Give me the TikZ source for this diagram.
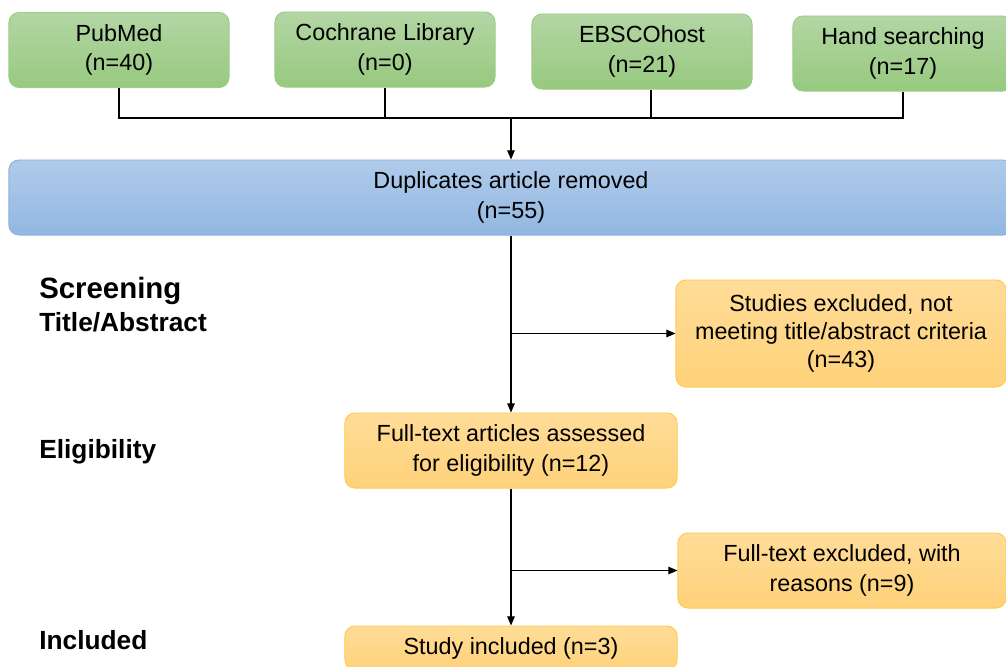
\documentclass[tikz,border=0pt]{standalone}
\usepackage{fontspec}
\setmainfont{Liberation Sans}
\usetikzlibrary{arrows.meta,calc,positioning}
\definecolor{srctop}{HTML}{B3D6A4}
\definecolor{srcbot}{HTML}{97C97F}
\definecolor{srcline}{HTML}{9FCC8A}
\definecolor{duptop}{HTML}{AFCBEA}
\definecolor{dupbot}{HTML}{93B7E2}
\definecolor{dupline}{HTML}{8DB1DE}
\definecolor{exctop}{HTML}{FFDC98}
\definecolor{excbot}{HTML}{FFD27A}
\definecolor{excline}{HTML}{FFCB52}
\tikzset{
  box/.style={rectangle,rounded corners=0.25cm,align=center,inner sep=0pt,
    font=\fontsize{16.6}{21.2}\selectfont,line width=0.7pt},
  src/.style={box,draw=srcline,top color=srctop,bottom color=srcbot,
    minimum width=5.5cm,minimum height=1.875cm},
  dup/.style={box,draw=dupline,top color=duptop,bottom color=dupbot},
  excl/.style={box,draw=excline,top color=exctop,bottom color=excbot},
  link/.style={line width=0.9pt},
  arr/.style={link,-{Triangle[length=2.3mm,width=1.9mm]}},
  stage/.style={anchor=west,inner sep=0pt,font=\fontsize{18.7}{22}\selectfont\bfseries},
}
\begin{document}
\begin{tikzpicture}[x=0.025cm,y=-0.025cm]
    \useasboundingbox (0,0) rectangle (1006,666);
    % databases
    \node[src] (pubmed) at (119,50) {PubMed\\(n=40)};
    \node[src] (cochrane) at (385,49.5) {Cochrane Library\\(n=0)};
    \node[src] (ebsco) at (642,51.5) {EBSCOhost\\(n=21)};
    \node[src] (hand) at (903,53.5) {Hand searching\\(n=17)};
    \coordinate (join) at (511,118);
    % flow
    \node[dup,minimum width=25.1cm,minimum height=1.875cm] (dup) at (511,197.5) {Duplicates article removed\\(n=55)};
    \node[excl,minimum width=8.25cm,minimum height=2.675cm,font=\fontsize{16.6}{20}\selectfont] (excl1) at (841,333.5) {Studies excluded, not\\meeting title/abstract criteria\\(n=43)};
    \node[excl,minimum width=8.3cm,minimum height=1.875cm] (full) at (511,450.5) {Full-text articles assessed\\for eligibility (n=12)};
    \node[excl,minimum width=8.2cm,minimum height=1.875cm] (excl2) at (842,570.5) {Full-text excluded, with\\reasons (n=9)};
    \node[excl,minimum width=8.3cm,minimum height=1.1cm] (incl) at (511,648) {Study included (n=3)};
    % stages
    \node[stage,font=\fontsize{20.9}{24}\selectfont\bfseries] (lscreen) at (39,291) {Screening};
    \node[stage] (ltitle) at (39,322) {Title/Abstract};
    \node[stage] (lelig) at (39,452) {Eligibility};
    \node[stage] (lincl) at (39,640) {Included};
    % connectors
    \draw[link] (pubmed.south) |- (join);
    \draw[link] (hand.south) |- (join);
    \draw[link] (cochrane.south) -- (cochrane.south |- join);
    \draw[link] ([xshift=0.225cm]ebsco.south) -- ([xshift=0.225cm]ebsco.south |- join);
    \draw[arr] (join) -- (dup.north);
    \draw[arr] (dup.south) -- (full.north);
    \draw[arr] (dup.south |- excl1.west) -- (excl1.west);
    \draw[arr] (full.south) -- (incl.north);
    \draw[arr] (full.south |- excl2.west) -- (excl2.west);
\end{tikzpicture}
\end{document}
